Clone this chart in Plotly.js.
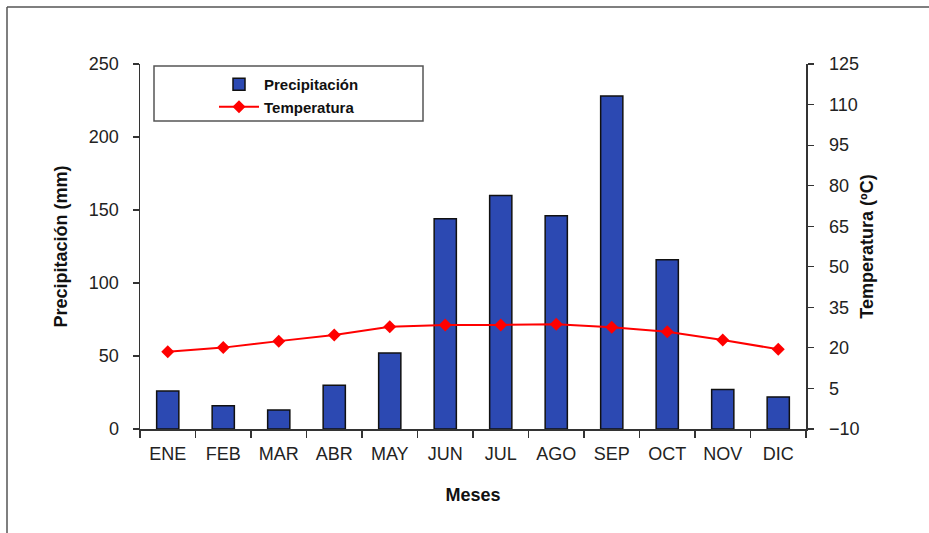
<!DOCTYPE html>
<html>
<head>
<meta charset="utf-8">
<script src="https://cdn.plot.ly/plotly-3.0.1.min.js"></script>
<style>html,body{margin:0;padding:0;background:#fff;}#chart{width:929px;height:533px;}</style>
</head>
<body>
<div id="chart"></div>
<script>
const meses = ["ENE","FEB","MAR","ABR","MAY","JUN","JUL","AGO","SEP","OCT","NOV","DIC"];
const precipitacion = [26, 16, 13, 30, 52, 144, 160, 146, 228, 116, 27, 22];
const temperatura = [18.6, 20.1, 22.5, 24.8, 27.8, 28.5, 28.5, 28.7, 27.6, 26.0, 22.9, 19.5];

const FONT = "Liberation Sans, Arial, sans-serif";

const traces = [
  {
    type: "bar", name: "Precipitación", x: meses, y: precipitacion,
    marker: {color: "#2C49B2", line: {color: "#111", width: 1.5}},
    yaxis: "y"
  },
  {
    type: "scatter", mode: "lines+markers", name: "Temperatura", x: meses, y: temperatura,
    line: {color: "#FF0000", width: 2},
    marker: {symbol: "diamond", size: 10, color: "#FF0000"},
    yaxis: "y2"
  }
];

const L = 140, R = 806, T = 64, B = 429;
const px = v => (v - L) / (R - L);
const py = v => (B - v) / (B - T);

const layout = {
  width: 929, height: 533,
  margin: {l: L, r: 929 - R, t: T, b: 533 - B},
  paper_bgcolor: "#fff", plot_bgcolor: "#fff",
  font: {family: FONT, size: 18, color: "#222"},
  showlegend: true,
  bargap: 0.6,
  xaxis: {
    type: "category", range: [-0.5, 11.5],
    showline: true, linecolor: "#333", linewidth: 1.5,
    ticks: "outside", ticklen: 7, tickcolor: "#333", tickwidth: 1.2,
    tickson: "boundaries", showgrid: false, zeroline: false,
    ticklabelstandoff: 8,
    tickfont: {size: 18, family: FONT, color: "#222"},
    title: {text: "Meses", font: {size: 18, family: FONT, weight: "bold", color: "#111"}, standoff: 25}
  },
  yaxis: {
    range: [0, 250], dtick: 50, tick0: 0,
    showline: true, linecolor: "#333", linewidth: 1.5,
    ticks: "outside", ticklen: 6, tickcolor: "#333", tickwidth: 1.2,
    ticklabelstandoff: 10,
    showgrid: false, zeroline: false,
    tickfont: {size: 18, family: FONT, color: "#222"},
    title: {text: "Precipitación (mm)", font: {size: 18, family: FONT, weight: "bold", color: "#111"}, standoff: 16}
  },
  yaxis2: {
    overlaying: "y", side: "right",
    range: [-10, 125], dtick: 15, tick0: -10,
    showline: true, linecolor: "#333", linewidth: 1.5,
    ticks: "outside", ticklen: 6, tickcolor: "#333", tickwidth: 1.2,
    ticklabelstandoff: 12,
    showgrid: false, zeroline: false,
    tickfont: {size: 18, family: FONT, color: "#222"},
    title: {text: "Temperatura (ºC)", font: {size: 18, family: FONT, weight: "bold", color: "#111"}, standoff: 2}
  },
  legend: {
    x: px(214), y: py(68), xanchor: "left", yanchor: "top",
    bgcolor: "rgba(0,0,0,0)", borderwidth: 0,
    font: {size: 15, family: FONT, weight: "bold", color: "#111"},
    itemwidth: 40, tracegroupgap: 0
  },
  shapes: [
    {type: "rect", xref: "paper", yref: "paper", x0: px(154), x1: px(423), y0: py(66), y1: py(121),
     line: {color: "#555", width: 1.5}, fillcolor: "rgba(255,255,255,1)", layer: "below"},
    {type: "line", xref: "paper", yref: "paper", x0: px(7), x1: px(929), y0: py(7), y1: py(7),
     line: {color: "#555", width: 1.5}},
    {type: "line", xref: "paper", yref: "paper", x0: px(7), x1: px(7), y0: py(7), y1: py(533),
     line: {color: "#555", width: 1.5}}
  ]
};

Plotly.newPlot("chart", traces, layout, {displayModeBar: false, staticPlot: true});
</script>
</body>
</html>
